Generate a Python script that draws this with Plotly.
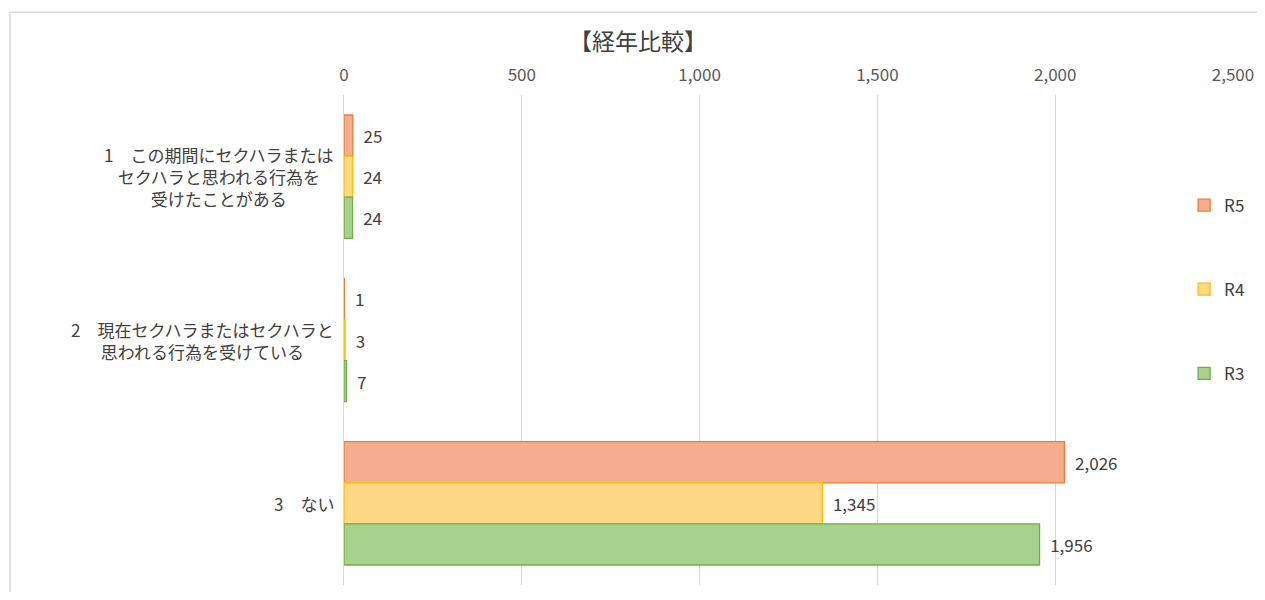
import plotly.graph_objects as go

categories = ["1", "2", "3"]
category_labels = [
    "1　この期間にセクハラまたは<br>セクハラと思われる行為を<br>受けたことがある",
    "2　現在セクハラまたはセクハラと<br>思われる行為を受けている",
    "3　ない",
]
series_names = ["R5", "R4", "R3"]
r5_values = [25, 1, 2026]
r4_values = [24, 3, 1345]
r3_values = [24, 7, 1956]
x_ticks = [0, 500, 1000, 1500, 2000, 2500]

fills = ["#F4AD8E", "#FFD885", "#A9D18E"]
borders = ["#ED7D31", "#FFC000", "#70AD47"]
FONT = "Noto Sans CJK JP"

fig = go.Figure()
for name, vals, fc, bc in zip(series_names, [r5_values, r4_values, r3_values], fills, borders):
    fig.add_trace(go.Bar(
        y=categories, x=vals, name=name, orientation="h",
        marker=dict(color=fc, line=dict(color=bc, width=1.3)),
        texttemplate="  %{x:,}", textposition="outside",
        textfont=dict(size=17, color="#404040", family=FONT),
        cliponaxis=False, legendgroup=name,
    ))

# category labels, centred multi-line text placed at each category slot
for i, lab in enumerate(category_labels):
    fig.add_annotation(
        x=-0.009, xref="paper", y=i, yref="y", text=lab,
        xanchor="right", align="center", showarrow=False,
        font=dict(size=17, color="#404040", family=FONT),
    )

# outer chart frame (only left and top edges are visible in the window)
fig.add_shape(type="line", xref="paper", yref="paper",
              x0=-0.3757, x1=-0.3757, y0=-0.2, y1=1.169,
              line=dict(color="#D9D9D9", width=1.5), layer="below")
fig.add_shape(type="line", xref="paper", yref="paper",
              x0=-0.3757, x1=1.1, y0=1.169, y1=1.169,
              line=dict(color="#D9D9D9", width=1.5), layer="below")

# page body has an 8px margin; keep the figure inside the window (no scrollbars)
fig.update_layout(
    width=1249, height=584,
    margin=dict(l=336, r=24, t=87, b=7, autoexpand=False),
    paper_bgcolor="white", plot_bgcolor="white",
    font=dict(family=FONT, color="#595959"),
    title=dict(text="【経年比較】", x=0.5044, xref="container", xanchor="center",
               y=1 - 34 / 584, yanchor="middle",
               font=dict(size=23, color="#404040", family=FONT)),
    barmode="group", bargap=0.245, bargroupgap=0,
    showlegend=True,
    legend=dict(x=0.945, xanchor="left", y=0.603, yanchor="middle",
                bgcolor="white", tracegroupgap=59,
                font=dict(size=17, color="#404040", family=FONT)),
)
fig.update_xaxes(
    side="top", range=[0, 2500], tickvals=x_ticks, tickformat=",",
    showgrid=True, gridcolor="#D9D9D9", gridwidth=1, zeroline=False,
    tickfont=dict(size=17, color="#595959"), ticklabelstandoff=10,
    automargin=False,
)
fig.update_yaxes(
    type="category", range=[2.5, -0.5], showticklabels=False, showgrid=False,
    showline=True, linecolor="#D9D9D9", linewidth=1, zeroline=False,
    automargin=False,
)

fig.write_html("out.html")
